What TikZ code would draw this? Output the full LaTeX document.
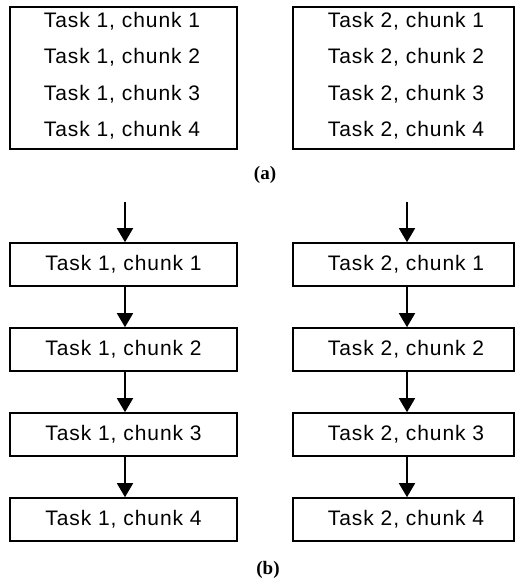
\documentclass[tikz,border=0pt]{standalone}
\usepackage{fontspec}
\setmainfont{Liberation Serif}
\newfontfamily\chunkfont[LetterSpace=4.5]{Liberation Sans}
\usetikzlibrary{arrows.meta}
\begin{document}
\begin{tikzpicture}[x=1pt,y=-1pt,
  frame/.style={draw, line width=1.6pt, inner sep=0pt},
  leftbox/.style={frame, minimum width=227pt, minimum height=43pt, font=\chunkfont\fontsize{21}{25}\selectfont},
  rightbox/.style={frame, minimum width=221pt, minimum height=43pt, font=\chunkfont\fontsize{21}{25}\selectfont},
  label/.style={inner sep=0pt, font=\chunkfont\fontsize{21}{25}\selectfont},
  caption/.style={inner sep=0pt, font=\bfseries\fontsize{19}{23}\selectfont},
  flow/.style={line width=1.6pt, -{Triangle[width=16pt,length=14pt]}}]
\useasboundingbox (0,0) rectangle (516,581);

% (a) two tasks, each a box holding its four chunks
\node[frame, minimum width=227pt, minimum height=142pt] (ta) at (123.5,78) {};
\node[frame, minimum width=221pt, minimum height=142pt] (tb) at (403.5,78) {};
\node[label] (a1) at (122,21) {Task 1, chunk 1};
\node[label] (a2) at (122,57.5) {Task 1, chunk 2};
\node[label] (a3) at (122,94) {Task 1, chunk 3};
\node[label] (a4) at (122,130.5) {Task 1, chunk 4};
\node[label] (c1) at (406,21) {Task 2, chunk 1};
\node[label] (c2) at (406,57.5) {Task 2, chunk 2};
\node[label] (c3) at (406,94) {Task 2, chunk 3};
\node[label] (c4) at (406,130.5) {Task 2, chunk 4};
\node[caption] (capa) at (265,175) {(a)};

% (b) each task as a chain of chunks
\node[leftbox] (p1) at (123.5,264.5) {Task 1, chunk 1};
\node[leftbox] (p2) at (123.5,349.5) {Task 1, chunk 2};
\node[leftbox] (p3) at (123.5,434.5) {Task 1, chunk 3};
\node[leftbox] (p4) at (123.5,519.5) {Task 1, chunk 4};
\node[rightbox] (q1) at (403.5,264.5) {\hspace*{5pt}Task 2, chunk 1};
\node[rightbox] (q2) at (403.5,349.5) {\hspace*{5pt}Task 2, chunk 2};
\node[rightbox] (q3) at (403.5,434.5) {\hspace*{5pt}Task 2, chunk 3};
\node[rightbox] (q4) at (403.5,519.5) {\hspace*{5pt}Task 2, chunk 4};
\coordinate (pin) at (125,202);
\coordinate (qin) at (407,202);

\draw[flow] (pin) -- (pin |- p1.north);
\draw[flow] ([xshift=1.5pt]p1.south) -- ([xshift=1.5pt]p2.north);
\draw[flow] ([xshift=1.5pt]p2.south) -- ([xshift=1.5pt]p3.north);
\draw[flow] ([xshift=1.5pt]p3.south) -- ([xshift=1.5pt]p4.north);
\draw[flow] (qin) -- (qin |- q1.north);
\draw[flow] ([xshift=3.5pt]q1.south) -- ([xshift=3.5pt]q2.north);
\draw[flow] ([xshift=3.5pt]q2.south) -- ([xshift=3.5pt]q3.north);
\draw[flow] ([xshift=3.5pt]q3.south) -- ([xshift=3.5pt]q4.north);
\node[caption] (capb) at (268,570) {(b)};
\end{tikzpicture}
\end{document}
